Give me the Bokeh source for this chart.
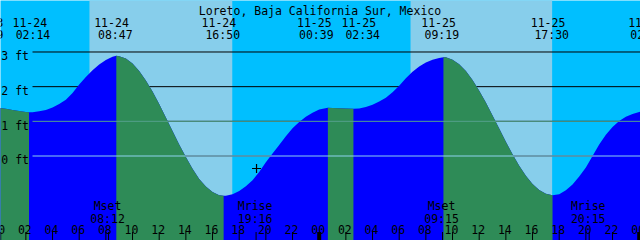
from bokeh.plotting import figure
from bokeh.models import Range1d, ColumnDataSource
from bokeh.core.properties import value
from bokeh.embed import file_html
from bokeh.resources import INLINE

# ---------------- data ----------------
TITLE = "Loreto, Baja California Sur, Mexico"

# tide height (ft); time = hours since 11-24 00:00
tide_t = [0, 0.5, 1, 1.5, 2, 2.233,
          2.5, 3, 3.5, 4, 4.5, 5, 5.5, 6, 6.5, 7, 7.5, 8, 8.5, 8.783,
          9, 9.5, 10, 10.5, 11, 11.5, 12, 12.5, 13, 13.5, 14, 14.5, 15, 15.5, 16, 16.5, 16.833,
          17, 17.5, 18, 18.5, 19, 19.5, 20, 20.5, 21, 21.5, 22, 22.5, 23, 23.5, 24, 24.65,
          25, 25.5, 26, 26.567,
          27, 27.5, 28, 28.5, 29, 29.5, 30, 30.5, 31, 31.5, 32, 32.5, 33, 33.317,
          33.5, 34, 34.5, 35, 35.5, 36, 36.5, 37, 37.5, 38, 38.5, 39, 39.5, 40, 40.5, 41, 41.5,
          42, 42.5, 43, 43.5, 44, 44.5, 45, 45.5, 46, 46.5, 47, 47.5, 48, 48.5]
tide_h = [1.39, 1.36, 1.33, 1.30, 1.27, 1.26,
          1.265, 1.29, 1.33, 1.40, 1.50, 1.62, 1.82, 2.06, 2.28, 2.47, 2.64, 2.77, 2.86, 2.89,
          2.88, 2.81, 2.67, 2.45, 2.18, 1.86, 1.50, 1.11, 0.72, 0.33, -0.03, -0.37, -0.66, -0.88,
          -1.04, -1.13, -1.15,
          -1.15, -1.10, -1.01, -0.87, -0.70, -0.46, -0.18, 0.07, 0.32, 0.57, 0.80, 0.98, 1.13,
          1.25, 1.34, 1.39,
          1.385, 1.38, 1.37, 1.36,
          1.37, 1.41, 1.48, 1.57, 1.68, 1.84, 2.03, 2.24, 2.43, 2.58, 2.70, 2.78, 2.83, 2.85,
          2.845, 2.78, 2.65, 2.45, 2.19, 1.88, 1.54, 1.17, 0.79, 0.41, 0.05, -0.28, -0.57, -0.81,
          -0.98, -1.09, -1.13,
          -1.10, -0.99, -0.82, -0.59, -0.33, 0.00, 0.33, 0.61, 0.84, 1.01, 1.13, 1.21, 1.27, 1.32]

# high / low tide events
ext_t = [-0.683, 2.233, 8.783, 16.833, 24.65, 26.567, 33.317, 41.5, 50.083]
ext_kind = ["High", "Low", "High", "Low", "High", "Low", "High", "Low", "High"]
ext_date = ["11-23", "11-24", "11-24", "11-24", "11-25", "11-25", "11-25", "11-25", "11-26"]
ext_time = ["23:19", "02:14", "08:47", "16:50", "00:39", "02:34", "09:19", "17:30", "02:05"]

# sun (day / night shading)
sunrise_t = [6.77, 30.85]
sunset_t = [17.48, 41.47]

# moon events
moon_t = [8.2, 19.267, 33.25, 44.25]
moon_name = ["Mset", "Mrise", "Mset", "Mrise"]
moon_time = ["08:12", "19:16", "09:15", "20:15"]

# depth lines
depth_ft = [0, 1, 2, 3]
depth_lbl = ["0 ft", "1 ft", "2 ft", "3 ft"]

# hour ticks
hour_t = [0, 2, 4, 6, 8, 10, 12, 14, 16, 18, 20, 22, 24, 26, 28, 30, 32, 34, 36,
          38, 40, 42, 44, 46, 48]
hour_lbl = ["00", "02", "04", "06", "08", "10", "12", "14", "16", "18", "20", "22",
            "00", "02", "04", "06", "08", "10", "12", "14", "16", "18", "20", "22", "00"]
midnight_t = [0, 24, 48]

mark_t = [19.3]
mark_h = [-0.36]

# ---------------- style ----------------
NIGHT = "#00BFFF"
DAY = "#87CEEB"
RISE = "#0000FF"
FALL = "#2E8B57"
MSL_COLOR = "#55A08C"
DATUM_COLOR = "#8DD2EE"
FONT = value("DejaVu Sans Mono")
FS = "11.5px"

PXH = 640 / 48.0
X0 = 1.3 / PXH
X1 = X0 + 48.0
Y_ZERO_PX = 155.5
PXF = 34.667
YT = Y_ZERO_PX / PXF
YB = (Y_ZERO_PX - 240) / PXF


def py(ypx):
    return (Y_ZERO_PX - ypx) / PXF


def px_t(xpx):
    return X0 + xpx / PXH


p = figure(width=640, height=240, x_range=Range1d(X0, X1), y_range=Range1d(YB, YT),
           output_backend="svg", toolbar_location=None, min_border=0,
           x_axis_location=None, y_axis_location=None)
p.grid.visible = False
p.outline_line_color = None
p.background_fill_color = NIGHT
p.border_fill_color = NIGHT

# sky: day shading
p.quad(left=sunrise_t, right=sunset_t, bottom=YB - 1, top=YT + 1,
       fill_color=DAY, line_color=None)

# black depth lines (under water)
line_start = px_t(32)
p.segment(x0=[line_start] * len(depth_ft), x1=[X1 + 1] * len(depth_ft),
          y0=depth_ft, y1=depth_ft, line_color="black", line_width=1)

# water: rising everywhere, then falling segments on top
p.varea(x=tide_t, y1=[YB - 1] * len(tide_t), y2=tide_h, fill_color=RISE)
for i in range(len(ext_t) - 1):
    if ext_kind[i] != "High":
        continue
    a, b = ext_t[i], ext_t[i + 1]
    seg = [(t, h) for t, h in zip(tide_t, tide_h) if a <= t <= b]
    if len(seg) < 2:
        continue
    st = [s[0] for s in seg]
    sh = [s[1] for s in seg]
    p.varea(x=st, y1=[YB - 1] * len(st), y2=sh, fill_color=FALL)

# coloured mean / datum lines
p.segment(x0=[line_start, line_start], x1=[X1 + 1, X1 + 1], y0=[1, 0], y1=[1, 0],
          line_color=[MSL_COLOR, DATUM_COLOR], line_width=1)

# depth labels
p.text(x=[px_t(0.8)] * len(depth_ft), y=[d - 4.3 / PXF for d in depth_ft], text=depth_lbl,
       text_align="left", text_baseline="alphabetic", text_font=FONT,
       text_font_size=FS, text_color="black")

# title
p.text(x=[px_t(319.5)], y=[py(10)], text=[TITLE], text_align="center",
       text_baseline="alphabetic", text_font=FONT, text_font_size=FS, text_color="black")

# tide event labels (offsets in pixels to avoid overlaps, as in the original)
date_dx = [-4.0, 0.8, -4.8, -4.8, -13.6, 5.4, -4.9, -4.5, -21.5]
time_dx = [-4.1, 4.0, -1.0, -0.9, -11.6, 9.3, -1.6, -0.8, -19.3]
ev_src = ColumnDataSource(dict(t=ext_t, d=ext_date, tm=ext_time, ddx=date_dx, tdx=time_dx,
                               yd=[py(21.7)] * len(ext_t), yt=[py(34.3)] * len(ext_t)))
p.text(x="t", y="yd", text="d", x_offset="ddx", source=ev_src, text_align="center",
       text_baseline="alphabetic", text_font=FONT, text_font_size=FS, text_color="black")
p.text(x="t", y="yt", text="tm", x_offset="tdx", source=ev_src, text_align="center",
       text_baseline="alphabetic", text_font=FONT, text_font_size=FS, text_color="black")

# moon labels
p.text(x=moon_t, y=[py(205.7)] * len(moon_t), text=moon_name, x_offset=-1,
       text_align="center", text_baseline="alphabetic", text_font=FONT,
       text_font_size=FS, text_color="black")
p.text(x=moon_t, y=[py(218)] * len(moon_t), text=moon_time, x_offset=-1,
       text_align="center", text_baseline="alphabetic", text_font=FONT,
       text_font_size=FS, text_color="black")

# hour labels
p.text(x=hour_t, y=[py(229.3)] * len(hour_t), text=hour_lbl, x_offset=-1,
       text_align="center", text_baseline="alphabetic", text_font=FONT,
       text_font_size=FS, text_color="black")

# ticks
tick_t = hour_t + moon_t
p.segment(x0=tick_t, x1=tick_t, y0=[py(231.5)] * len(tick_t), y1=[py(241)] * len(tick_t),
          line_color="black", line_width=1)
p.rect(x=midnight_t, y=[py(236)] * len(midnight_t), width=4, width_units="screen",
       height=9, height_units="screen", fill_color="black", line_color=None)

# current-time mark
p.scatter(x=mark_t, y=mark_h, marker="cross", size=9, line_color="black", line_width=1.2)

open("out.html", "w").write(file_html(p, INLINE))
